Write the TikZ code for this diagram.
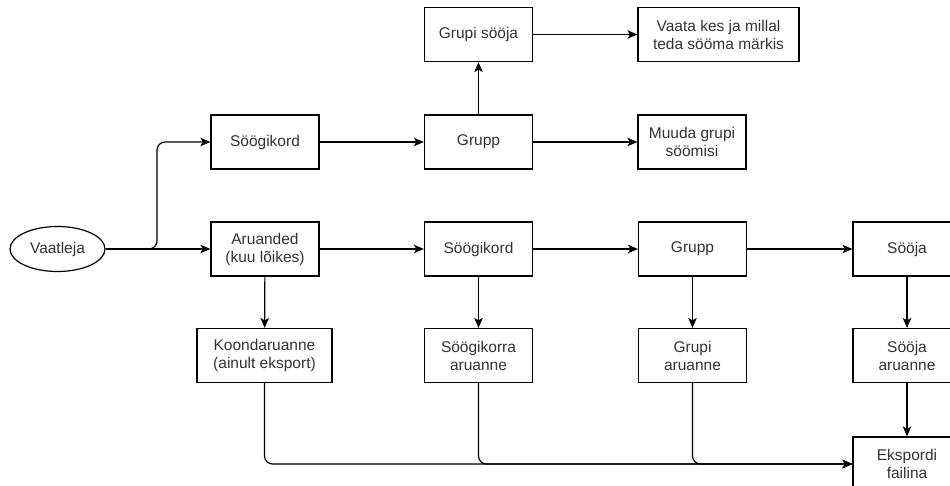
\documentclass[tikz,border=0pt]{standalone}
\usepackage{fontspec}
\setmainfont{Liberation Sans}
\usetikzlibrary{arrows.meta,shapes.geometric}
\definecolor{txt}{HTML}{333333}
\tikzset{
  box/.style={draw=black, line width=1.2pt, fill=white, minimum width=108pt,
    minimum height=54pt, align=center, inner sep=2pt, text=txt,
    font=\fontsize{15.5}{18}\selectfont},
  oval/.style={box, ellipse, minimum width=95pt, minimum height=45pt},
  link/.style={draw=black, line width=1.2pt,
    -{Stealth[length=10pt,width=8.5pt,inset=2.5pt]}},
  elbow/.style={link, rounded corners=8pt}
}
\begin{document}
\begin{tikzpicture}[x=1pt,y=-1pt]
\useasboundingbox (0,0) rectangle (950,486);

% user entry point
\node[oval] (vaat) at (57.5,249) {Vaatleja};

% upper branch: meals and groups
\node[box] (sk1) at (265,142) {Söögikord};
\node[box] (gr1) at (478.5,142) {Grupp};
\node[box] (gs)  at (478.5,34.5) {Grupi sööja};
\node[box, minimum width=161pt] (vk) at (718.5,34.5) {Vaata kes ja millal\\teda sööma märkis};
\node[box] (mg)  at (692,142) {Muuda grupi\\söömisi};

% lower branch: reports
\node[box] (ar)  at (265,249) {Aruanded\\(kuu lõikes)};
\node[box] (sk2) at (478.5,249) {Söögikord};
\node[box] (gr2) at (692.5,249) {Grupp};
\node[box] (so)  at (907,249) {Sööja};

\node[box, minimum width=135pt] (ko) at (264.5,355.5) {Koondaruanne\\(ainult eksport)};
\node[box] (ska) at (478.5,355.5) {Söögikorra\\aruanne};
\node[box] (gra) at (692.5,355.5) {Grupi\\aruanne};
\node[box] (soa) at (907,355.5) {Sööja\\aruanne};
\node[box] (ek)  at (907,464) {Ekspordi\\failina};

\coordinate (split) at (157,249);

% connectors
\draw[link] (vaat.east) -- (ar.west);
\draw[elbow] (vaat.east) -- (split) |- (sk1.west);

\draw[link] (sk1) -- (gr1);
\draw[link] (gr1) -- (gs);
\draw[link] (gs) -- (vk);
\draw[link] (gr1) -- (mg);

\draw[link] (ar) -- (sk2);
\draw[link] (sk2) -- (gr2);
\draw[link] (gr2) -- (so);

\draw[link] (ar) -- (ko);
\draw[link] (sk2) -- (ska);
\draw[link] (gr2) -- (gra);
\draw[link] (so) -- (soa);
\draw[link] (soa) -- (ek);

\draw[elbow] (ko.south) |- (ek.west);
\draw[elbow] (ska.south) |- (ek.west);
\draw[elbow] (gra.south) |- (ek.west);
\end{tikzpicture}
\end{document}
